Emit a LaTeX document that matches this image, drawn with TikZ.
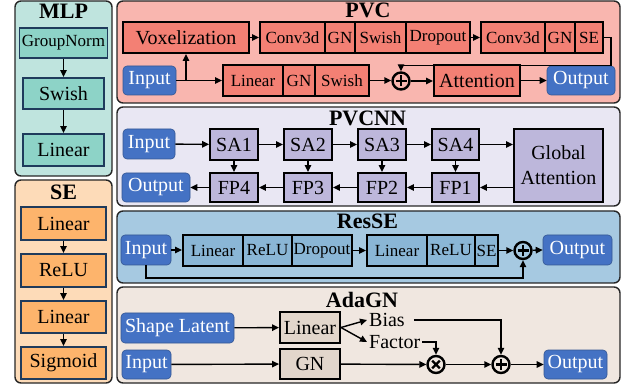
\documentclass[tikz,border=0pt]{standalone}
\usepackage{fontspec}
\setmainfont{Liberation Serif}[Ligatures=TeX]
\newfontfamily\tms{Liberation Serif}
\usetikzlibrary{arrows.meta,calc}

\definecolor{mlpbg}{HTML}{BFE4DE}
\definecolor{mlpbox}{HTML}{8DD3C7}
\definecolor{navy}{HTML}{1F3B5C}
\definecolor{sebg}{HTML}{FDDBB8}
\definecolor{sebox}{HTML}{FDB46C}
\definecolor{pvcbg}{HTML}{F9B6AF}
\definecolor{pvcbox}{HTML}{F38074}
\definecolor{cnnbg}{HTML}{E9E7F3}
\definecolor{cnnbox}{HTML}{BDB7DB}
\definecolor{resbg}{HTML}{A6C9E1}
\definecolor{resbox}{HTML}{8AB6D6}
\definecolor{adabg}{HTML}{F0E7E0}
\definecolor{adabox}{HTML}{E2D6CB}
\definecolor{ioblue}{HTML}{4472C4}

% box given by its left, right, top and bottom edges
\newcommand\bx[7]{\node[#2, minimum width={(#4)-(#3)}, minimum height={(#6)-(#5)}] (#1) at ({((#3)+(#4))/2},{((#5)+(#6))/2}) {#7};}

\begin{document}
\begin{tikzpicture}[x=1pt,y=-1pt,
  panel/.style={draw=black!85, line width=1.4pt, rounded corners=6pt},
  title/.style={anchor=base, inner sep=0pt, font=\tms\bfseries\fontsize{22}{24}\selectfont},
  box/.style={draw, line width=1.9pt, inner sep=0pt, font=\tms\fontsize{20}{22}\selectfont},
  small/.style={font=\tms\fontsize{17}{20}\selectfont},
  mbox/.style={box, fill=mlpbox, draw=navy},
  sbox/.style={box, fill=sebox, draw=navy},
  pbox/.style={box, fill=pvcbox},
  cbox/.style={box, fill=cnnbox},
  rbox/.style={box, fill=resbox},
  abox/.style={box, fill=adabox},
  io/.style={fill=ioblue, draw=ioblue!75!black, line width=0.6pt, rounded corners=4pt, text=white, inner sep=0pt, font=\tms\fontsize{20}{22}\selectfont},
  lbl/.style={inner sep=2pt, font=\tms\fontsize{20}{22}\selectfont},
  arr/.style={-{Triangle[length=7pt,width=6.5pt]}, line width=1.4pt},
  op/.style={circle, draw, line width=2.4pt, minimum size=17pt, inner sep=0pt},
  oplus/.style={op, path picture={\draw[line width=2.2pt]
      (path picture bounding box.center) ++(-5.5,0) -- ++(11,0)
      (path picture bounding box.center) ++(0,-5.5) -- ++(0,11);}},
  otimes/.style={op, path picture={\draw[line width=2.2pt]
      (path picture bounding box.center) ++(-3.8,-3.8) -- ++(7.6,7.6)
      (path picture bounding box.center) ++(-3.8,3.8) -- ++(7.6,-7.6);}}
]
\useasboundingbox (0,0) rectangle (635,390);

% ---------------- MLP ----------------
\draw[panel, fill=mlpbg] (15,1) rectangle (112,176);
\node[title] at (63.5,19) {MLP};
\bx{mgn}{mbox,small}{19.5}{107.5}{28}{58}{GroupNorm}
\bx{msw}{mbox}{23}{104}{78}{109}{Swish}
\bx{mli}{mbox}{23}{104}{134}{166}{Linear}
\draw[arr] (mgn) -- (msw);
\draw[arr] (msw) -- (mli);

% ---------------- SE ----------------
\draw[panel, fill=sebg] (15,180) rectangle (112,383);
\node[title] at (63.5,200) {SE};
\bx{sl1}{sbox}{21}{106}{207}{240}{Linear}
\bx{sre}{sbox}{21}{106}{254}{287}{ReLU}
\bx{sl2}{sbox}{21}{106}{301}{333}{Linear}
\bx{ssg}{sbox}{21}{106}{347}{379}{Sigmoid}
\draw[arr] (sl1) -- (sre);
\draw[arr] (sre) -- (sl2);
\draw[arr] (sl2) -- (ssg);

% ---------------- PVC ----------------
\draw[panel, fill=pvcbg] (117,1) rectangle (620,103);
\node[title] at (368,18) {PVC};
\bx{pvox}{pbox}{123}{249}{22}{53}{Voxelization}
\bx{pc1}{pbox,small}{260}{325}{22}{53}{Conv3d}
\bx{pg1}{pbox,small}{325}{355}{22}{53}{GN}
\bx{ps1}{pbox,small}{355}{406}{22}{53}{Swish}
\bx{pd1}{pbox,small}{406}{470}{22}{53}{Dropout}
\bx{pc2}{pbox,small}{481}{545}{22}{53}{Conv3d}
\bx{pg2}{pbox,small}{545}{575}{22}{53}{GN}
\bx{pse}{pbox,small}{575}{603}{22}{53}{SE}
\bx{pin}{io}{123}{176}{66}{95}{Input}
\bx{pl}{pbox,small}{223}{283}{65}{96}{Linear}
\bx{pg}{pbox,small}{283}{315}{65}{96}{GN}
\bx{ps}{pbox,small}{315}{369}{65}{96}{Swish}
\node[oplus] (pplus) at (401,81) {};
\bx{patt}{pbox}{434}{520}{65}{96}{Attention}
\bx{pout}{io}{547}{615}{66}{95}{Output}
\draw[arr] (pvox) -- (pc1);
\draw[arr] (pd1) -- (pc2);
\draw[arr] (pin) -- (pl);
\draw[arr] (pin.east -| pvox.south) -- (pvox.south);
\draw[arr] (ps.east) -- (ps.east -| pplus.west);
\draw[arr] (pplus.east) -- (pplus.east -| patt.west);
\draw[arr] (patt) -- (pout);
\draw[arr] (pse.east) -- ++(7,0) |- ([yshift=6pt]pplus.north) -- (pplus.north);

% ---------------- PVCNN ----------------
\draw[panel, fill=cnnbg] (117,107) rectangle (620,206);
\node[title] at (367.5,126) {PVCNN};
\bx{nin}{io}{123}{175}{129}{159}{Input}
\bx{sa1}{cbox}{210}{258}{129}{160}{SA1}
\bx{sa2}{cbox}{284}{332}{129}{160}{SA2}
\bx{sa3}{cbox}{358}{406}{129}{160}{SA3}
\bx{sa4}{cbox}{432}{479}{129}{160}{SA4}
\bx{glob}{cbox, align=center, font=\tms\fontsize{20}{25}\selectfont}{514}{603}{129}{202}{Global\\Attention}
\bx{fp4}{cbox}{210}{258}{173}{202}{FP4}
\bx{fp3}{cbox}{284}{332}{173}{202}{FP3}
\bx{fp2}{cbox}{358}{406}{173}{202}{FP2}
\bx{fp1}{cbox}{432}{479}{173}{202}{FP1}
\bx{nout}{io}{122}{190}{173}{202}{Output}
\draw[arr] (nin) -- (sa1);
\draw[arr] (sa1) -- (sa2);
\draw[arr] (sa2) -- (sa3);
\draw[arr] (sa3) -- (sa4);
\draw[arr] (sa4.east) -- (sa4.east -| glob.west);
\draw[arr] (fp1.east -| glob.west) -- (fp1.east);
\draw[arr] (fp1) -- (fp2);
\draw[arr] (fp2) -- (fp3);
\draw[arr] (fp3) -- (fp4);
\draw[arr] (fp4) -- (nout);
\draw[arr] (sa1) -- (fp4);
\draw[arr] (sa2) -- (fp3);
\draw[arr] (sa3) -- (fp2);
\draw[arr] (sa4) -- (fp1);

% ---------------- ResSE ----------------
\draw[panel, fill=resbg] (117,211) rectangle (620,283);
\node[title] at (367.5,229) {ResSE};
\bx{rin}{io}{121}{171}{235}{265}{Input}
\bx{rl1}{rbox,small}{183}{243}{235}{266}{Linear}
\bx{rr1}{rbox,small}{243}{292}{235}{266}{ReLU}
\bx{rd1}{rbox,small}{292}{352}{235}{266}{Dropout}
\bx{rl2}{rbox,small}{367}{427}{235}{266}{Linear}
\bx{rr2}{rbox,small}{427}{475}{235}{266}{ReLU}
\bx{rse}{rbox,small}{475}{498}{235}{266}{SE}
\node[oplus] (rplus) at (523,250.5) {};
\bx{rout}{io}{543}{612}{235}{265}{Output}
\draw[arr] (rin.east) -- (rin.east -| rl1.west);
\draw[arr] (rd1) -- (rl2);
\draw[arr] (rse) -- (rplus);
\draw[arr] (rplus) -- (rin.east -| rout.west);
\draw[arr] (rin.south) -- (rin.south |- 0,278) -| (rplus.south);

% ---------------- AdaGN ----------------
\draw[panel, fill=adabg] (117,287) rectangle (620,383);
\node[title] at (362,308) {AdaGN};
\bx{alat}{io}{121}{234}{313}{343}{Shape Latent}
\bx{alin}{abox}{280}{340}{312}{343}{Linear}
\node[lbl, anchor=west] (bias) at (367,320) {Bias};
\node[lbl, anchor=west] (fac) at (367,342) {Factor};
\bx{ain}{io}{122}{171}{350}{379}{Input}
\bx{agn}{abox}{280}{340}{349}{379}{GN}
\node[otimes] (atimes) at (436,364.5) {};
\node[oplus] (aplus) at (501,364.5) {};
\bx{aout}{io}{544}{607}{350}{379}{Output}
\draw[arr] (alat) -- (alin);
\draw[arr] (alin.east) -- (bias.west);
\draw[arr] (alin.east) -- (fac.west);
\draw[arr] ([xshift=7pt]bias.east) -| (aplus.north);
\draw[arr] (fac.east) -| (atimes.north);
\draw[arr] (ain) -- (agn);
\draw[arr] (agn) -- (atimes);
\draw[arr] (atimes) -- (aplus);
\draw[arr] (aplus) -- (aout);
\end{tikzpicture}
\end{document}
